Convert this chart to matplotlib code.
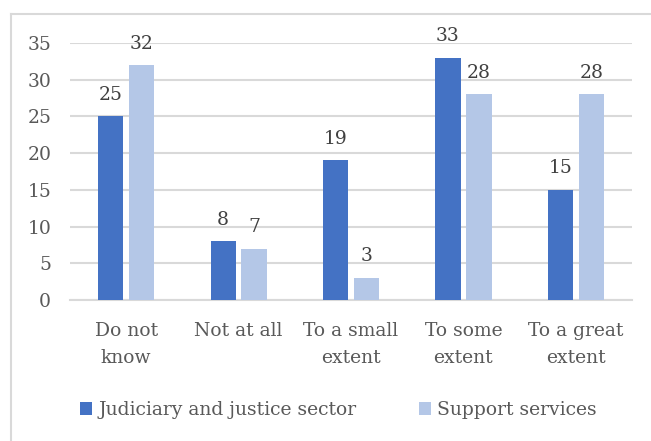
import numpy as np
import matplotlib.pyplot as plt
from matplotlib.lines import Line2D

categories = ['Do not\nknow', 'Not at all', 'To a small\nextent', 'To some\nextent', 'To a great\nextent']
judiciary = [25, 8, 19, 33, 15]
support = [32, 7, 3, 28, 28]
series_names = ['Judiciary and justice sector', 'Support services']

plt.rcParams['font.family'] = ['DejaVu Serif']
text_color = '#595959'
grid_color = '#d9d9d9'

fig = plt.figure(figsize=(6.51, 4.41), dpi=100)
# outer chart frame: only the left and top edges show
fx, fy = 10.5 / 651, 1 - 13.5 / 441
fig.lines.append(Line2D([fx, fx], [0, fy], transform=fig.transFigure, color=grid_color, lw=1.5))
fig.lines.append(Line2D([fx, 1], [fy, fy], transform=fig.transFigure, color=grid_color, lw=1.5))

ax = fig.add_axes([70 / 651, 1 - 300 / 441, 562 / 651, 257 / 441])

x = np.arange(len(categories))
width = 0.225
gap = 0.05
r1 = ax.bar(x - (width + gap) / 2, judiciary, width, color='#4472C4', label=series_names[0], zorder=3)
r2 = ax.bar(x + (width + gap) / 2, support, width, color='#B4C7E7', label=series_names[1], zorder=3)

ax.bar_label(r1, padding=9, fontsize=13.5, color='#404040')
ax.bar_label(r2, padding=9, fontsize=13.5, color='#404040')

ax.set_xlim(-0.5, len(categories) - 0.5)
ax.set_ylim(0, 35)
ax.set_yticks(range(0, 36, 5))
ax.yaxis.grid(True, color=grid_color, linewidth=1.5, zorder=0)
ax.set_xticks(x, categories)
for lbl in ax.get_xticklabels():
    lbl.set_linespacing(1.6)
ax.tick_params(axis='both', length=0, labelsize=13.5, colors=text_color)
ax.tick_params(axis='y', pad=13.5)
ax.tick_params(axis='x', pad=16)
for s in ['top', 'right', 'left']:
    ax.spines[s].set_visible(False)
ax.spines['bottom'].set_color(grid_color)
ax.spines['bottom'].set_linewidth(1.5)

fig.legend(loc='center', bbox_to_anchor=(0.52, 1 - 410 / 441), ncol=2, frameon=False,
           fontsize=13.5, labelcolor=text_color, handlelength=0.65, handleheight=0.65,
           handletextpad=0.35, columnspacing=3.3)

plt.savefig('out.png', dpi=100)
